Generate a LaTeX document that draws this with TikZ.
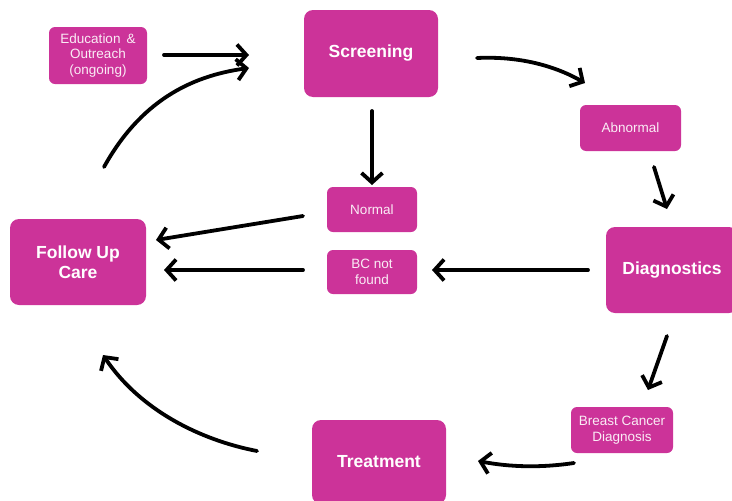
\documentclass[tikz,border=0pt]{standalone}
\usepackage{fontspec}
\setmainfont{Liberation Sans}
\usetikzlibrary{arrows.meta}
\definecolor{mag}{RGB}{204,51,153}
\definecolor{lighttext}{RGB}{250,236,245}
\begin{document}
\begin{tikzpicture}[x=1pt,y=-1pt,
  bigbox/.style={fill=mag, rounded corners=9pt, text=white, align=center, inner sep=0pt,
    font=\fontsize{17.5}{19.5}\selectfont\bfseries},
  smallbox/.style={fill=mag, rounded corners=6pt, text=lighttext, align=center, inner sep=0pt,
    font=\fontsize{13.5}{15.5}\selectfont},
  flow/.style={line width=3.8pt, line cap=round, line join=round,
    -{Straight Barb[length=9.5pt,width=21pt]}}]
\useasboundingbox (0,0) rectangle (732,501);

\node[smallbox, minimum width=98pt, minimum height=57pt] (edu) at (98,55.5) {Education \,\&\\Outreach\\(ongoing)};
\node[bigbox, minimum width=134pt, minimum height=87pt] (screen) at (371,53.5) {Screening};
\node[smallbox, minimum width=101pt, minimum height=46pt] (abn) at (630.5,128) {Abnormal};
\node[smallbox, minimum width=90pt, minimum height=45pt] (norm) at (372,209.5) {Normal};
\node[smallbox, minimum width=90pt, minimum height=44pt] (bcnf) at (372,272) {BC not\\found};
\node[bigbox, minimum width=136pt, minimum height=86pt] (follow) at (78,262) {Follow Up\\Care};
\node[bigbox, minimum width=132pt, minimum height=86pt] (diag) at (672,270) {Diagnostics};
\node[smallbox, minimum width=102pt, minimum height=46pt] (bcd) at (622,430) {Breast Cancer\\Diagnosis};
\node[bigbox, minimum width=134pt, minimum height=84pt] (treat) at (379,462) {Treatment};

% connector end points
\coordinate (a1s) at (164,55);  \coordinate (a1e) at (249,55);
\coordinate (a2s) at (104,167); \coordinate (a2e) at (249,68);
\coordinate (a3s) at (477,58);  \coordinate (a3e) at (585,83);
\coordinate (a4s) at (372,111); \coordinate (a4e) at (372,185);
\coordinate (a5s) at (654,167); \coordinate (a5e) at (667,209);
\coordinate (a6s) at (303,216); \coordinate (a6e) at (156,240);
\coordinate (a7s) at (303,270); \coordinate (a7e) at (164,270);
\coordinate (a8s) at (588,270); \coordinate (a8e) at (432,270);
\coordinate (a9s) at (667,336); \coordinate (a9e) at (648,390);
\coordinate (a10s) at (574,463); \coordinate (a10e) at (478,461);
\coordinate (a11s) at (257,451); \coordinate (a11e) at (103,355);

\draw[flow] (a1s) -- (a1e);
\draw[flow] (a2s) .. controls (140,102) and (190,76) .. (a2e);
\draw[flow] (a3s) .. controls (520,56) and (555,66) .. (a3e);
\draw[flow] (a4s) -- (a4e);
\draw[flow] (a5s) -- (a5e);
\draw[flow] (a6s) -- (a6e);
\draw[flow] (a7s) -- (a7e);
\draw[flow] (a8s) -- (a8e);
\draw[flow] (a9s) -- (a9e);
\draw[flow] (a10s) .. controls (540,468) and (510,467) .. (a10e);
\draw[flow] (a11s) .. controls (200,440) and (140,410) .. (a11e);
\end{tikzpicture}
\end{document}
